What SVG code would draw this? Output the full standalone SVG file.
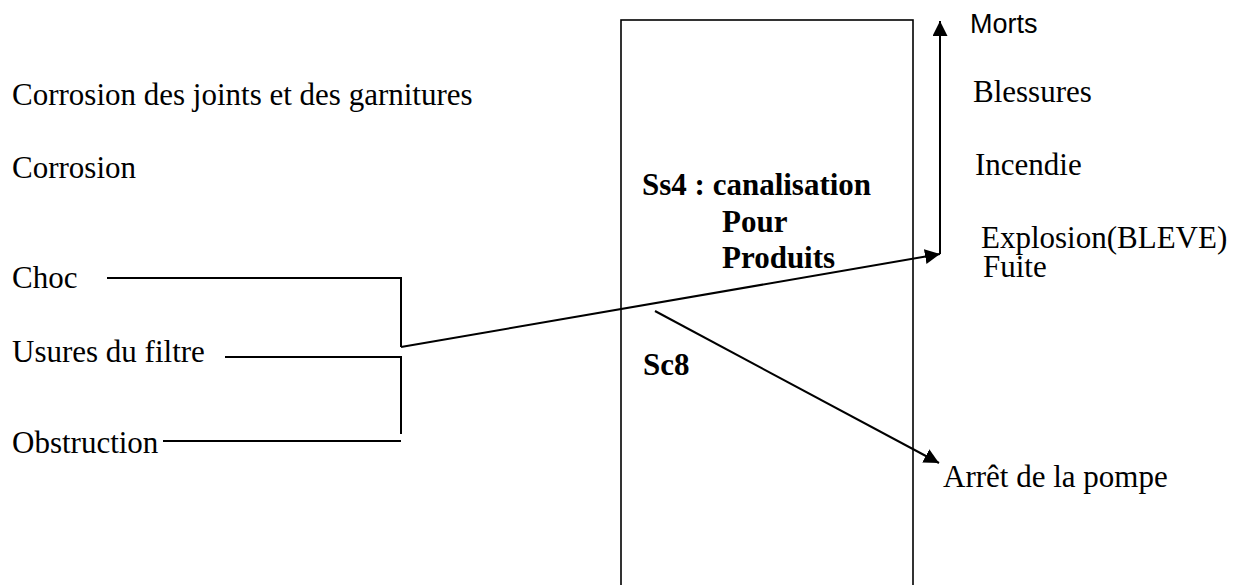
<svg xmlns="http://www.w3.org/2000/svg" width="1246" height="585" viewBox="0 0 1246 585">
  <style>
    .t { font-family: "Liberation Serif", "Times New Roman", serif; font-size: 31px; fill: #000; }
    .b { font-family: "Liberation Serif", "Times New Roman", serif; font-size: 31px; font-weight: bold; fill: #000; }
    .s { font-family: "Liberation Sans", Arial, sans-serif; font-size: 27px; fill: #000; }
    .ln { stroke: #000; stroke-width: 2; fill: none; }
    .box { stroke: #000; stroke-width: 1.6; fill: none; }
  </style>
  <defs>
    <marker id="arrow" markerUnits="userSpaceOnUse" markerWidth="16" markerHeight="16" refX="15" refY="7.5" orient="auto">
      <path d="M0,0 L15,7.5 L0,15 z" fill="#000"/>
    </marker>
  </defs>
  <rect width="1246" height="585" fill="#fff"/>

  <!-- causes -->
  <g id="cause-corrosion-joints">
    <text class="t" x="12" y="105">Corrosion des joints et des garnitures</text>
  </g>
  <g id="cause-corrosion">
    <text class="t" x="12" y="178">Corrosion</text>
  </g>
  <g id="cause-choc">
    <text class="t" x="12" y="288">Choc</text>
  </g>
  <g id="cause-usures">
    <text class="t" x="12" y="362">Usures du filtre</text>
  </g>
  <g id="cause-obstruction">
    <text class="t" x="12" y="453">Obstruction</text>
  </g>

  <!-- subsystem box -->
  <g id="subsystem-ss4">
    <rect class="box" x="621" y="20" width="292" height="600"/>
    <text class="b" x="642" y="195">Ss4 : canalisation</text>
    <text class="b" x="722" y="232">Pour</text>
    <text class="b" x="722" y="268">Produits</text>
    <text class="b" x="643" y="375">Sc8</text>
  </g>

  <!-- consequences -->
  <g id="effect-morts">
    <text class="s" x="970" y="33">Morts</text>
  </g>
  <g id="effect-blessures">
    <text class="t" x="973" y="102">Blessures</text>
  </g>
  <g id="effect-incendie">
    <text class="t" x="975" y="175">Incendie</text>
  </g>
  <g id="effect-explosion">
    <text class="t" x="981" y="248">Explosion(BLEVE)</text>
  </g>
  <g id="effect-fuite">
    <text class="t" x="983" y="277">Fuite</text>
  </g>
  <g id="effect-arret">
    <text class="t" x="943" y="487">Arrêt de la pompe</text>
  </g>

  <!-- connectors -->
  <g id="connectors">
    <polyline class="ln" points="107,278 401,278 401,347"/>
    <polyline class="ln" points="225,357 401,357 401,434"/>
    <line class="ln" x1="163" y1="441" x2="401" y2="441"/>
    <line class="ln" x1="401" y1="347" x2="940" y2="254" marker-end="url(#arrow)"/>
    <line class="ln" x1="940" y1="254" x2="940" y2="21" marker-end="url(#arrow)"/>
    <line class="ln" x1="655" y1="311" x2="939" y2="463" marker-end="url(#arrow)"/>
  </g>
</svg>
